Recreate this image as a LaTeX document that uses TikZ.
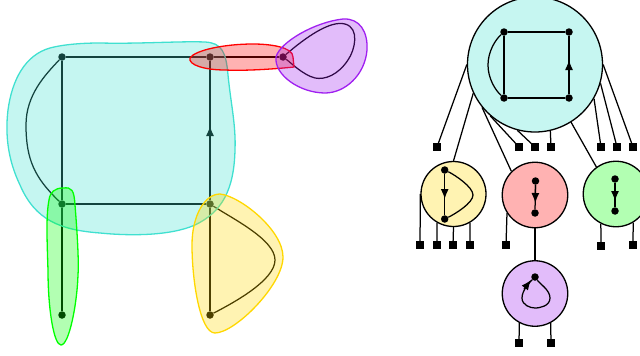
\documentclass[tikz,border=0pt]{standalone}
\usetikzlibrary{arrows.meta}
\definecolor{teal1}{HTML}{40E0D0}
\definecolor{red1}{HTML}{FF0000}
\definecolor{purple1}{HTML}{A020F0}
\definecolor{gold1}{HTML}{FFD700}
\definecolor{green1}{HTML}{00FF00}
\tikzset{
  vert/.style={circle,fill=black,inner sep=0pt,minimum size=7.5pt},
  term/.style={rectangle,fill=black,inner sep=0pt,minimum size=8pt},
  link/.style={draw=black,line width=1.25pt},
  flow/.style={draw=black,line width=1.25pt,-{Latex[length=10pt,width=8pt]}},
  bag/.style={circle,draw=black,line width=1.3pt,inner sep=0pt,minimum size=#1},
  blob/.style={draw=#1,fill=#1,fill opacity=.3,line width=1.3pt},
}
\begin{document}
\begin{tikzpicture}[x=1pt,y=-1pt]
\useasboundingbox (0,0) rectangle (640,356);
% left graph
\node[vert] (A) at (62,57) {};
\node[vert] (B) at (210,57) {};
\node[vert] (C) at (62,204) {};
\node[vert] (D) at (210,204) {};
\node[vert] (E) at (283,57) {};
\node[vert] (F) at (62,315) {};
\node[vert] (G) at (210,315) {};
\coordinate (tipBD) at (210,126);
\draw[link] (A) -- (B) -- (E);
\draw[link] (A) -- (C) -- (D) -- (B);
\draw[flow] (D) -- (tipBD);
\draw[link] (C) -- (F);
\draw[link] (D) -- (G);
\draw[link] (A) .. controls (45,75) and (26,95) .. (26,125) .. controls (26,160) and (35,178) .. (C);
\draw[link] (D) .. controls (235,220) and (275,240) .. (275,260) .. controls (275,280) and (235,302) .. (G);
\draw[link] (E) .. controls (305,38) and (330,20) .. (345,24) .. controls (360,28) and (355,50) .. (348,60) .. controls (338,75) and (325,80) .. (315,78) .. controls (303,75) and (290,62) .. (E);
% hyperedge regions
\draw[blob=teal1] (100,43) .. controls (140,44) and (180,41) .. (205,42) .. controls (222,43) and (226,52) .. (228,75) .. controls (231,105) and (236,125) .. (235,150) .. controls (234,190) and (222,212) .. (195,225) .. controls (170,236) and (130,236) .. (100,233) .. controls (60,230) and (35,220) .. (20,185) .. controls (8,160) and (5,135) .. (8,110) .. controls (12,80) and (25,55) .. (50,48) .. controls (65,44) and (85,43) .. (100,43) -- cycle;
\draw[blob=red1] (190,58) .. controls (195,50) and (225,44) .. (253,44) .. controls (270,44) and (293,47) .. (293,57) -- (294,67) .. controls (275,69) and (245,71) .. (225,70) .. controls (205,70) and (188,65) .. (190,58) -- cycle;
\draw[blob=purple1] (276,57) .. controls (280,42) and (315,22) .. (343,19) .. controls (360,18) and (368,32) .. (367,50) .. controls (365,75) and (345,93) .. (325,93) .. controls (300,93) and (274,75) .. (276,57) -- cycle;
\draw[blob=gold1] (220,194) .. controls (240,196) and (283,230) .. (283,257) .. controls (283,285) and (235,333) .. (215,333) .. controls (200,333) and (192,280) .. (192,245) .. controls (192,215) and (205,194) .. (220,194) -- cycle;
\draw[blob=green1] (63,188) .. controls (72,187) and (74,190) .. (75,205) .. controls (77,230) and (79,260) .. (78,275) .. controls (77,305) and (69,345) .. (61,345) .. controls (54,345) and (48,310) .. (48,270) .. controls (47,240) and (46,215) .. (49,200) .. controls (50,192) and (55,188) .. (63,188) -- cycle;
% right tree
\node[bag=135pt,fill=teal1!30] (big) at (535,64.5) {};
\node[bag=65pt,fill=gold1!30] (ybag) at (453.5,194) {};
\node[bag=65.5pt,fill=red1!30] (rbag) at (535,195) {};
\node[bag=65.5pt,fill=green1!30] (gbag) at (616,194) {};
\node[bag=65.5pt,fill=purple1!30] (pbag) at (535,293.5) {};
\foreach \n/\x/\y in {t1/437/147,t2/519/147,t3/535/147,t4/551/147,t5/601/147,t6/617/147,t7/633/147,
  y1/420/245,y2/437/245,y3/453/245,y4/470/245,r1/506/245,g1/601/246,g2/633/245,p1/519/343,p2/551/343}
  \node[term] (\n) at (\x,\y) {};
\draw[link] (big.180) -- (t1.center);
\draw[link] (big.205) -- (ybag.90);
\draw[link] (big.219) -- (rbag.135);
\draw[link] (big.229) -- (t2.center);
\draw[link] (big.255.6) -- (t3.center);
\draw[link] (big.283) -- (t4.center);
\draw[link] (big.302.5) -- (gbag.126.5);
\draw[link] (big.330.5) -- (t5.center);
\draw[link] (big.344) -- (t6.center);
\draw[link] (big.0) -- (t7.center);
\draw[link] (ybag.180) -- (y1.center);
\draw[link] (ybag.240) -- (y2.center);
\draw[link] (ybag.270) -- (y3.center);
\draw[link] (ybag.300) -- (y4.center);
\draw[link] (rbag.213) -- (r1.center);
\draw[link] (rbag.270) -- (pbag.90);
\draw[link] (gbag.243) -- (g1.center);
\draw[link] (gbag.301) -- (g2.center);
\draw[link] (pbag.242) -- (p1.center);
\draw[link] (pbag.298) -- (p2.center);
% inner graphs
\node[vert] (a1) at (504,32) {};
\node[vert] (a2) at (569,32) {};
\node[vert] (a3) at (504,98) {};
\node[vert] (a4) at (569,98) {};
\coordinate (a5) at (569,60);
\draw[link] (a1) -- (a2) -- (a4) -- (a3) -- (a1);
\draw[flow] (a4) -- (a5);
\draw[link] (a1) .. controls (495,40) and (488,52) .. (488,65) .. controls (488,78) and (495,90) .. (a3);
\node[vert] (b1) at (444.7,170) {};
\node[vert] (b2) at (444.7,219) {};
\coordinate (b3) at (444.7,199);
\draw[link] (b1) -- (b2);
\draw[flow] (b1) -- (b3);
\draw[link] (b1) .. controls (455,175) and (473,187) .. (473,195) .. controls (473,203) and (455,214) .. (b2);
\node[vert] (c1) at (535.5,181) {};
\node[vert] (c2) at (535,213) {};
\coordinate (c3) at (535.3,203);
\draw[link] (c1) -- (c2);
\draw[flow] (c1) -- (c3);
\node[vert] (d1) at (615,179) {};
\node[vert] (d2) at (615,211) {};
\coordinate (d3) at (615,201);
\draw[link] (d1) -- (d2);
\draw[flow] (d1) -- (d3);
\node[vert] (e1) at (535,277) {};
\coordinate (e2) at (531,280);
\coordinate (e3) at (524,289);
\draw[link] (e1) .. controls (540,284) and (550,290) .. (550,298) .. controls (550,306) and (540,308) .. (535,308) .. controls (530,308) and (522,305) .. (522,298) .. controls (522,290) and (530,282) .. (e1);
\draw[flow] (e3) -- (e2);
\end{tikzpicture}
\end{document}
